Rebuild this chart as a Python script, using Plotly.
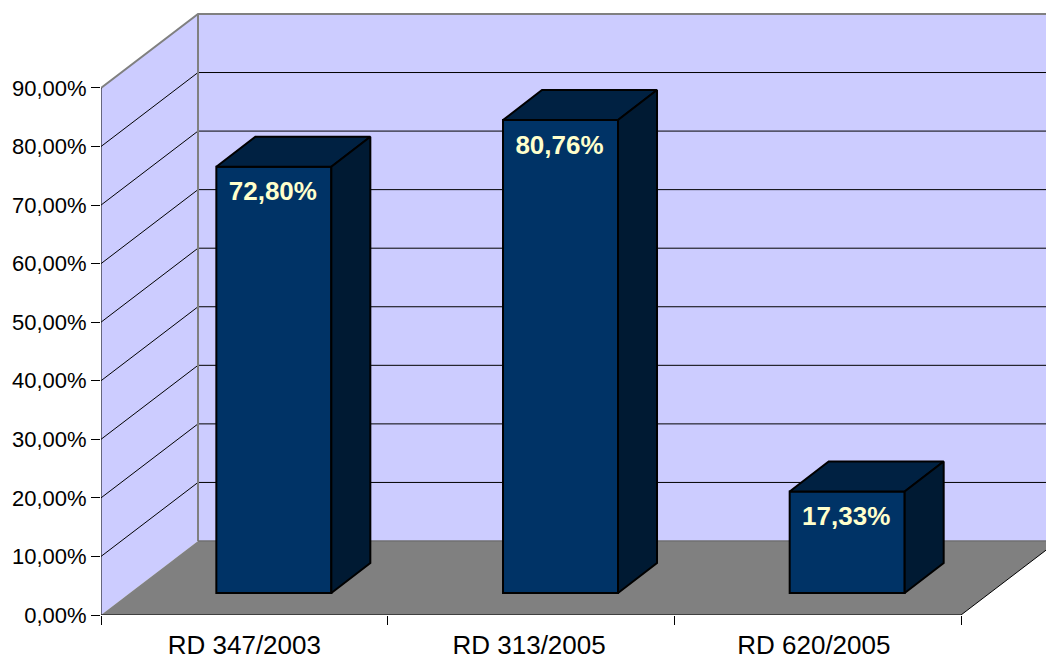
import plotly.graph_objects as go

categories = ["RD 347/2003", "RD 313/2005", "RD 620/2005"]
values = [72.80, 80.76, 17.33]
value_labels = ["72,80%", "80,76%", "17,33%"]
y_ticks = [0, 10, 20, 30, 40, 50, 60, 70, 80, 90]
y_tick_labels = ["0,00%", "10,00%", "20,00%", "30,00%", "40,00%", "50,00%",
                 "60,00%", "70,00%", "80,00%", "90,00%"]

W, H = 1046, 659
L, B = 101, 44
PX_X = 286.67   # px per category
PX_Y = 5.856    # px per percent
n = len(categories)
xmax = (W - L) / PX_X
ymax = (H - B) / PX_Y
wall_dx, wall_dy = 97 / PX_X, 74 / PX_Y
bar_w = 115 / PX_X
bar_dx, bar_dy = 39 / PX_X, 30 / PX_Y
bar_shift, bar_base = 29.5 / PX_X, 22 / PX_Y
label_pitch = 284.75 / PX_X
ymx = y_ticks[-1]
FONT = "Liberation Sans, Arial, sans-serif"
WALL, FLOOR, GRAY = "#CCCCFF", "#808080", "#808080"


def poly(points, fill, line, width=1):
    path = "M " + " L ".join(f"{x},{y}" for x, y in points) + " Z"
    return dict(type="path", path=path, xref="x", yref="y", layer="below",
                fillcolor=fill, line=dict(color=line, width=width))


def seg(points, color, width=1):
    path = "M " + " L ".join(f"{x},{y}" for x, y in points)
    return dict(type="path", path=path, xref="x", yref="y", layer="below",
                line=dict(color=color, width=width))


shapes = [
    poly([(0, 0), (wall_dx, wall_dy), (wall_dx, ymx + wall_dy), (0, ymx)], WALL, WALL, 0),
    poly([(wall_dx, wall_dy), (n + wall_dx, wall_dy), (n + wall_dx, ymx + wall_dy),
          (wall_dx, ymx + wall_dy)], WALL, WALL, 0),
]
for v in y_ticks[1:-1]:
    shapes.append(seg([(0, v), (wall_dx, v + wall_dy), (n + wall_dx, v + wall_dy)], "#000000", 1))
shapes.append(poly([(0, 0), (n, 0), (n + wall_dx, wall_dy), (wall_dx, wall_dy)], FLOOR, FLOOR, 0))
shapes.append(seg([(0, ymx), (wall_dx, ymx + wall_dy), (n + wall_dx, ymx + wall_dy)], GRAY, 2))
shapes.append(seg([(wall_dx, wall_dy), (wall_dx, ymx + wall_dy)], GRAY, 2))
shapes.append(seg([(wall_dx, wall_dy), (n + wall_dx, wall_dy)], "#707070", 1.5))
shapes.append(seg([(n, 0), (n + wall_dx, wall_dy)], "#000000", 1))

fig = go.Figure()
centers = [i + 0.5 for i in range(n)]
label_positions = [0.5 + i * label_pitch for i in range(n)]

fig.add_trace(go.Bar(
    x=centers, y=values, base=bar_base, width=bar_w,
    offset=bar_shift - bar_w / 2,
    marker=dict(color="#003366", line=dict(color="#000000", width=2)),
    showlegend=False, hoverinfo="skip",
))

for c, v in zip(centers, values):
    x0 = c + bar_shift - bar_w / 2
    x1 = x0 + bar_w
    y0 = bar_base
    y1 = bar_base + v
    fig.add_trace(go.Scatter(
        x=[x0, x1, x1 + bar_dx, x0 + bar_dx, x0],
        y=[y1, y1, y1 + bar_dy, y1 + bar_dy, y1],
        mode="lines", fill="toself", fillcolor="#002142",
        line=dict(color="#000000", width=2), showlegend=False, hoverinfo="skip"))
    fig.add_trace(go.Scatter(
        x=[x1, x1 + bar_dx, x1 + bar_dx, x1, x1],
        y=[y1, y1 + bar_dy, y0 + bar_dy, y0, y1],
        mode="lines", fill="toself", fillcolor="#001A33",
        line=dict(color="#000000", width=2), showlegend=False, hoverinfo="skip"))

fig.add_trace(go.Scatter(
    x=[c + bar_shift - 1 / PX_X for c in centers],
    y=[v + bar_base - 27 / PX_Y for v in values],
    mode="text", text=value_labels, textposition="middle center",
    textfont=dict(family=FONT, size=26, color="#FFFFCC", weight="bold"),
    showlegend=False, hoverinfo="skip"))

fig.add_trace(go.Scatter(
    x=[0, 0, n], y=[ymx, 0, 0], mode="lines", cliponaxis=False,
    line=dict(color="#000000", width=1), showlegend=False, hoverinfo="skip"))

fig.update_layout(
    width=W, height=H, margin=dict(l=L, r=0, t=0, b=B, pad=0),
    paper_bgcolor="#FFFFFF", plot_bgcolor="#FFFFFF", shapes=shapes,
    font=dict(family=FONT, color="#000000"),
    xaxis=dict(range=[0, xmax], tickmode="array", tickvals=label_positions, ticktext=categories,
               ticks="", showgrid=False, zeroline=False, showline=False, automargin=False,
               tickfont=dict(size=26, family=FONT), ticklabelstandoff=12,
               minor=dict(tickmode="array", tickvals=list(range(n + 1)), ticks="outside",
                          ticklen=9, tickcolor="#000000", tickwidth=1, showgrid=False)),
    yaxis=dict(range=[0, ymax], tickmode="array", tickvals=y_ticks, ticktext=y_tick_labels,
               ticks="outside", ticklen=9, tickcolor="#000000", tickwidth=1, automargin=False,
               showgrid=False, zeroline=False, showline=False,
               tickfont=dict(size=22, family=FONT), ticklabelstandoff=0),
)

fig.write_html("out.html", config=dict(displayModeBar=False),
               post_script="document.body.style.margin='0';document.body.style.overflow='hidden';")
